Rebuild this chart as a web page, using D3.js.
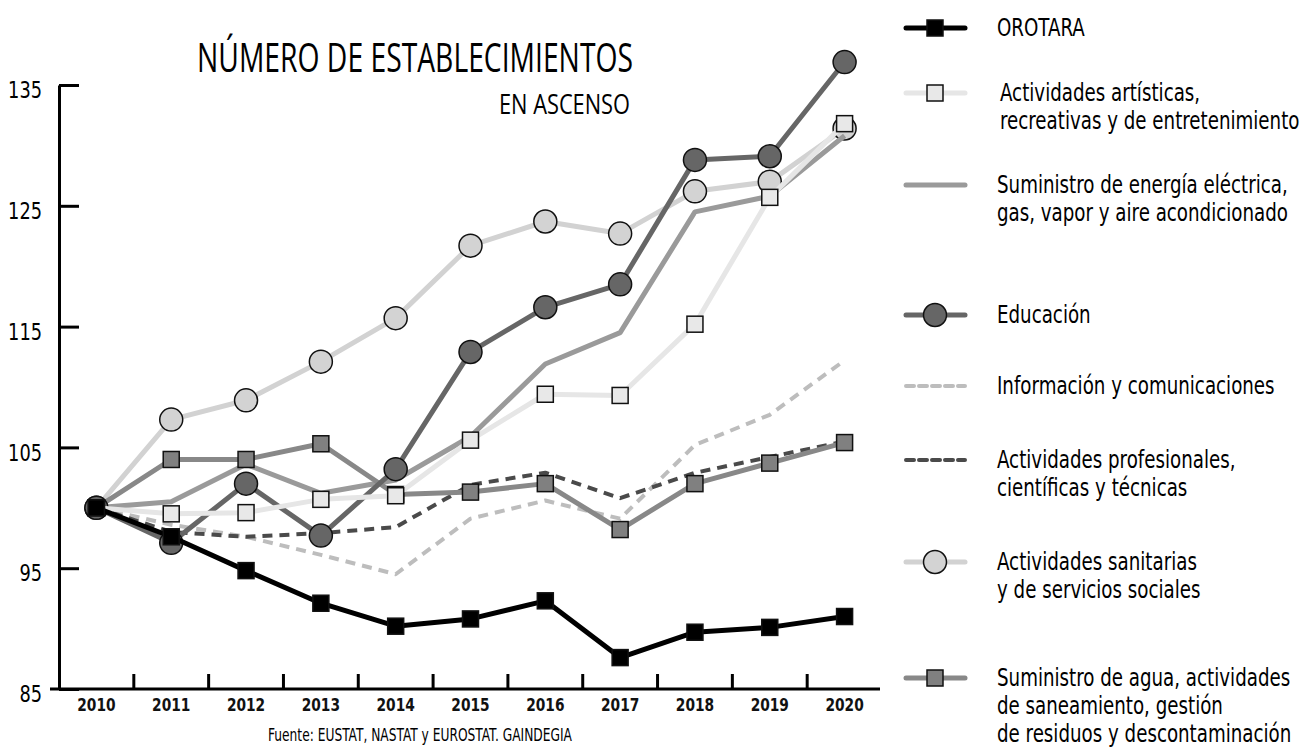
<!DOCTYPE html>
<html>
<head>
<meta charset="utf-8">
<script src="https://cdn.jsdelivr.net/npm/d3@7"></script>
<style>
    body { margin: 0; background: #fff; }
    svg text { font-family: "Liberation Sans Narrow", "DejaVu Sans Condensed", "Roboto", sans-serif; }
    svg text.title { font-family: "Open Sans", "DejaVu Sans Condensed", sans-serif; font-weight: 400; }
</style>
</head>
<body>
<svg id="svg_main"></svg>
<script>
const years = [2010, 2011, 2012, 2013, 2014, 2015, 2016, 2017, 2018, 2019, 2020];
const yTicks = [85, 95, 105, 115, 125, 135];

const orotara = [100, 97.6, 94.8, 92.1, 90.2, 90.8, 92.3, 87.6, 89.7, 90.1, 91.0];
const artisticas = [100, 99.5, 99.6, 100.7, 101.0, 105.6, 109.4, 109.3, 115.2, 125.7, 131.8];
const energia = [100, 100.5, 103.6, 101.2, 102.3, 105.9, 111.9, 114.5, 124.5, 125.8, 130.8];
const educacion = [100, 97.1, 102.0, 97.7, 103.2, 112.9, 116.6, 118.5, 128.8, 129.1, 136.9];
const informacion = [100, 98.6, 97.6, 96.1, 94.5, 99.1, 100.6, 99.1, 105.2, 107.7, 112.2];
const profesionales = [100, 98.0, 97.6, 97.9, 98.4, 101.9, 102.9, 100.8, 102.9, 104.2, 105.5];
const sanitarias = [100, 107.3, 108.9, 112.1, 115.7, 121.7, 123.7, 122.7, 126.2, 127.0, 131.4];
const agua = [100, 104.0, 104.0, 105.3, 101.1, 101.3, 102.0, 98.2, 102.0, 103.7, 105.4];

// draw order matters: later ones sit on top
const series = [
    {key: 'sanitarias', values: sanitarias, line: '#d2d2d2', width: 5, marker: 'circle', fill: '#d3d3d3'},
    {key: 'energia', values: energia, line: '#9a9a9a', width: 5, marker: null},
    {key: 'informacion', values: informacion, line: '#bdbdbd', width: 4, dash: '10,7', marker: null},
    {key: 'profesionales', values: profesionales, line: '#4a4a4a', width: 4, dash: '10,7', marker: null},
    {key: 'agua', values: agua, line: '#888888', width: 5, marker: 'square', fill: '#808080'},
    {key: 'educacion', values: educacion, line: '#666666', width: 5, marker: 'circle', fill: '#666666'},
    {key: 'artisticas', values: artisticas, line: '#e6e6e6', width: 5, marker: 'square', fill: '#e8e8e8'},
    {key: 'orotara', values: orotara, line: '#000000', width: 5, marker: 'square', fill: '#000000'}
];

const legend = [
    {key: 'orotara', y: 28, lines: ['OROTARA']},
    {key: 'artisticas', y: 93, lines: ['Actividades artísticas,', 'recreativas y de entretenimiento']},
    {key: 'energia', y: 185, lines: ['Suministro de energía eléctrica,', 'gas, vapor y aire acondicionado']},
    {key: 'educacion', y: 315, lines: ['Educación']},
    {key: 'informacion', y: 386, lines: ['Información y comunicaciones']},
    {key: 'profesionales', y: 460, lines: ['Actividades profesionales,', 'científicas y técnicas']},
    {key: 'sanitarias', y: 562, lines: ['Actividades sanitarias', 'y de servicios sociales']},
    {key: 'agua', y: 678, lines: ['Suministro de agua, actividades', 'de saneamiento, gestión', 'de residuos y descontaminación']}
];

const width = 1303, height = 747;
const svg = d3.select('#svg_main').attr('width', width).attr('height', height);

const x = d3.scaleBand().domain(years).range([59, 882]);
const y = d3.scaleLinear().domain([85, 135]).range([689, 85]);
const cx = d => x(d) + x.bandwidth() / 2;
const squeeze = 0.86; // the original face is condensed, so narrow the glyphs

// y axis
const yAxis = svg.append('g')
    .attr('transform', 'translate(59,0)')
    .call(d3.axisLeft(y).tickValues(yTicks).tickSizeInner(-20).tickSizeOuter(0).tickPadding(17));
yAxis.select('.domain').attr('stroke', '#000').attr('stroke-width', 3);
yAxis.selectAll('.tick line').attr('stroke', '#000').attr('stroke-width', 3);
yAxis.selectAll('.tick text')
    .attr('font-size', 23).attr('fill', '#000').attr('dy', '0.55em')
    .attr('transform', `scale(${squeeze},1)`)
    .attr('x', -17 / squeeze);

// x axis
svg.append('line')
    .attr('x1', 50).attr('x2', 880).attr('y1', y(85)).attr('y2', y(85))
    .attr('stroke', '#000').attr('stroke-width', 3);
svg.append('g').selectAll('line')
    .data(years.slice(1))
    .join('line')
    .attr('x1', d => x(d)).attr('x2', d => x(d))
    .attr('y1', y(85)).attr('y2', y(85) - 15)
    .attr('stroke', '#000').attr('stroke-width', 3);
svg.append('g').selectAll('text')
    .data(years)
    .join('text')
    .attr('transform', d => `translate(${cx(d)},711) scale(0.9,1)`)
    .attr('text-anchor', 'middle')
    .attr('font-size', 17).attr('font-weight', 'bold').attr('fill', '#111')
    .text(d => d);

// title
svg.append('text').attr('class', 'title')
    .attr('x', 197).attr('y', 72)
    .attr('font-size', 41).attr('textLength', 436).attr('lengthAdjust', 'spacingAndGlyphs')
    .text('NÚMERO DE ESTABLECIMIENTOS');
svg.append('text').attr('class', 'title')
    .attr('x', 499).attr('y', 114)
    .attr('font-size', 28).attr('textLength', 131).attr('lengthAdjust', 'spacingAndGlyphs')
    .text('EN ASCENSO');

// source
svg.append('text')
    .attr('x', 268).attr('y', 741)
    .attr('font-size', 18).attr('textLength', 304).attr('lengthAdjust', 'spacingAndGlyphs')
    .text('Fuente: EUSTAT, NASTAT y EUROSTAT. GAINDEGIA');

// lines
const line = d3.line().x((d, i) => cx(years[i])).y(d => y(d));
const plot = svg.append('g');

series.forEach(s => {
    const g = plot.append('g').attr('class', s.key);
    g.append('path')
        .attr('d', line(s.values))
        .attr('fill', 'none')
        .attr('stroke', s.line)
        .attr('stroke-width', s.width)
        .attr('stroke-dasharray', s.dash || null)
        .attr('stroke-linejoin', 'round');
    drawMarkers(g, s, s.values.map((v, i) => [cx(years[i]), y(v)]));
});

function drawMarkers(g, s, pts) {
    if (s.marker === 'circle') {
        g.selectAll('circle').data(pts).join('circle')
            .attr('cx', d => d[0]).attr('cy', d => d[1]).attr('r', 11.5)
            .attr('fill', s.fill).attr('stroke', '#111').attr('stroke-width', 1.5);
    } else if (s.marker === 'square') {
        const size = 16;
        g.selectAll('rect').data(pts).join('rect')
            .attr('x', d => d[0] - size / 2).attr('y', d => d[1] - size / 2)
            .attr('width', size).attr('height', size)
            .attr('fill', s.fill).attr('stroke', '#111').attr('stroke-width', 1.5);
    }
}

// legend
const byKey = {};
series.forEach(s => byKey[s.key] = s);
const lg = svg.append('g');
legend.forEach(l => {
    const s = byKey[l.key];
    const g = lg.append('g');
    g.append('line')
        .attr('x1', 906).attr('x2', 965).attr('y1', l.y).attr('y2', l.y)
        .attr('stroke', s.line).attr('stroke-width', s.width)
        .attr('stroke-dasharray', s.dash ? '8,5' : null)
        .attr('stroke-linecap', 'round');
    drawMarkers(g, s, [[935, l.y]]);
    const tx = l.key === 'artisticas' ? 1000 : 997;
    g.append('text')
        .attr('transform', `translate(${tx},${l.y}) scale(0.845,1)`)
        .attr('font-size', 24)
        .selectAll('tspan')
        .data(l.lines)
        .join('tspan')
        .attr('x', 0)
        .attr('dy', (d, i) => i === 0 ? '0.35em' : 28)
        .text(d => d);
});
</script>
</body>
</html>
